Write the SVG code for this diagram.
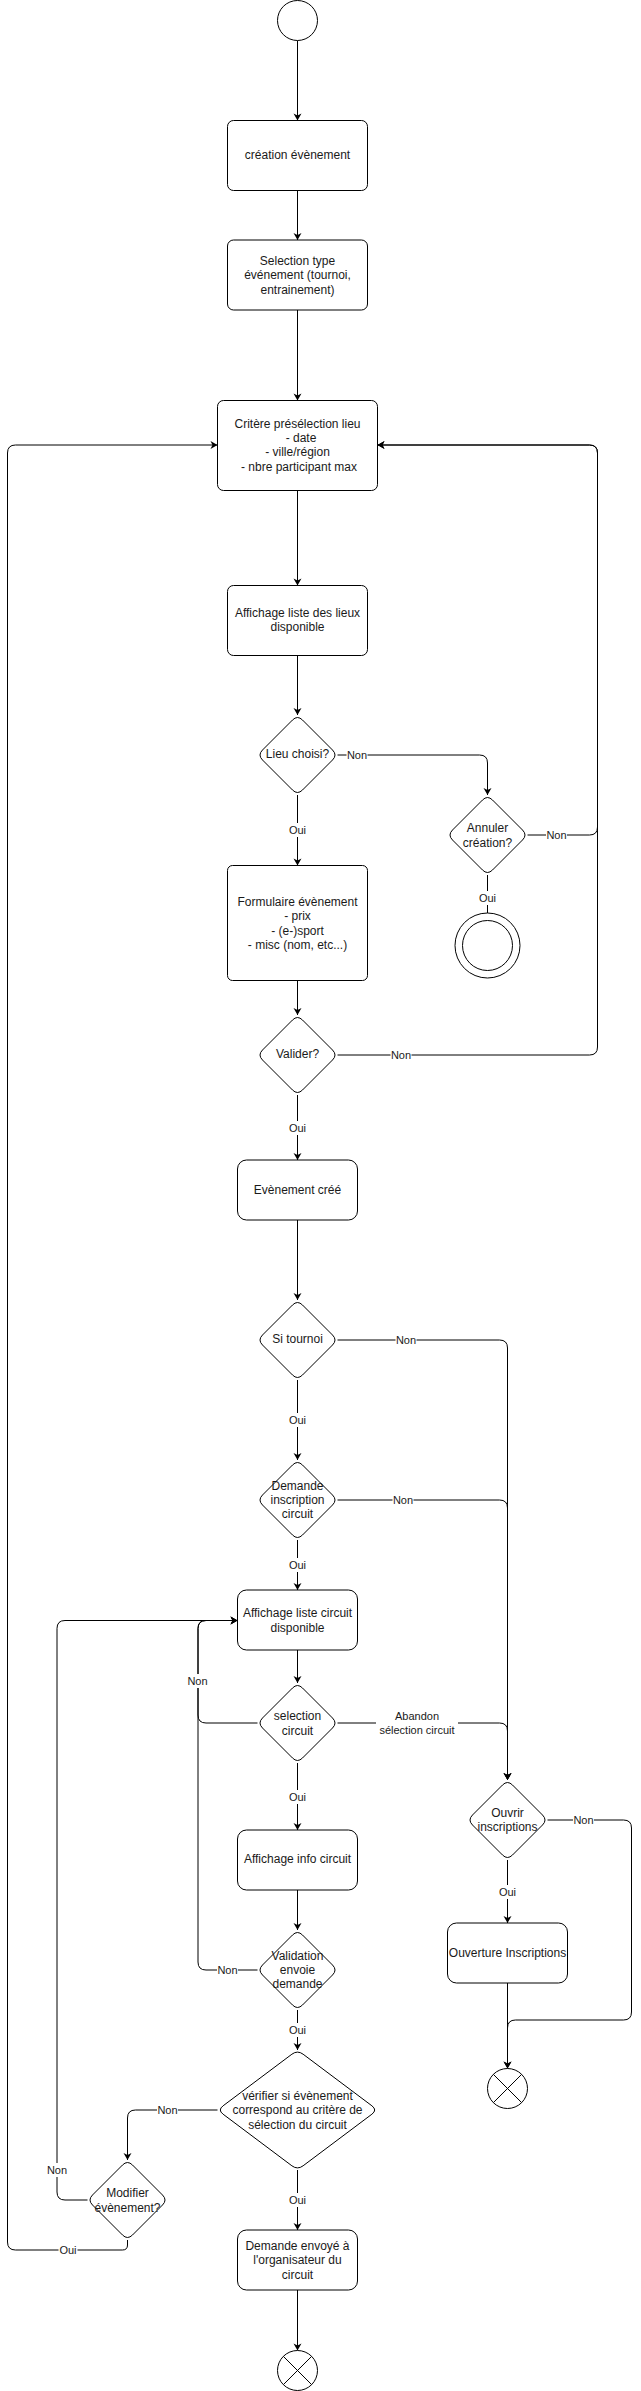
<svg xmlns="http://www.w3.org/2000/svg" xmlns:xlink="http://www.w3.org/1999/xlink" width="641" height="2391" viewBox="0 0 641 2391">
<style>
.n{fill:#fff;stroke:#000;stroke-width:1}
.t{font-family:"Liberation Sans",Arial,sans-serif;font-size:12px;fill:#1a1a1a;text-anchor:middle;dominant-baseline:central}
.l{font-family:"Liberation Sans",Arial,sans-serif;font-size:11px;fill:#1a1a1a;text-anchor:middle;dominant-baseline:central}
.c{fill:none;stroke:#000;stroke-width:1}
.a{marker-end:url(#arr)}
.bg{fill:#fff;stroke:none}
</style>
<defs>
<marker id="arr" markerUnits="userSpaceOnUse" markerWidth="10" markerHeight="10" viewBox="-8 -5 10 10" refX="0" refY="0" orient="auto"><path d="M-7,-4 L0,0 L-7,4 L-5,0 Z" fill="#000"/></marker>
<path id="dm" d="M-5,-35 Q0,-40 5,-35 L35,-5 Q40,0 35,5 L5,35 Q0,40 -5,35 L-35,5 Q-40,0 -35,-5 Z"/>
<path id="dmb" d="M-5.6,-55.8 Q0,-60 5.6,-55.8 L74.4,-4.2 Q80,0 74.4,4.2 L5.6,55.8 Q0,60 -5.6,55.8 L-74.4,4.2 Q-80,0 -74.4,-4.2 Z"/>
</defs>

<g id="connectors">
<path class="c a" d="M297.5,40.5 V120.5"/>
<path class="c a" d="M297.5,190.5 V240"/>
<path class="c a" d="M297.5,310 V400.5"/>
<path class="c a" d="M297.5,490.5 V585.5"/>
<path class="c a" d="M297.5,655.5 V715"/>
<path class="c a" d="M297.5,795 V865.5"/>
<path class="c a" d="M337.5,755 H479.5 Q487.5,755 487.5,763 V795"/>
<path class="c a" d="M527.5,835 H589.5 Q597.5,835 597.5,827 V453 Q597.5,445 589.5,445 H377.5"/>
<path class="c a" d="M487.5,875 V920.5"/>
<path class="c a" d="M297.5,980.5 V1015"/>
<path class="c a" d="M337.5,1055 H589.5 Q597.5,1055 597.5,1047 V453 Q597.5,445 589.5,445 H377.5"/>
<path class="c a" d="M297.5,1095 V1160"/>
<path class="c a" d="M297.5,1220 V1300"/>
<path class="c a" d="M297.5,1380 V1460"/>
<path class="c a" d="M337.5,1340 H499.5 Q507.5,1340 507.5,1348 V1780"/>
<path class="c a" d="M337.5,1500 H499.5 Q507.5,1500 507.5,1508 V1780"/>
<path class="c a" d="M297.5,1540 V1590"/>
<path class="c a" d="M297.5,1650 V1683"/>
<path class="c a" d="M257.5,1723 H206 Q198,1723 198,1715 V1628.5 Q198,1620.5 206,1620.5 H237.5"/>
<path class="c a" d="M337.5,1723 H499.5 Q507.5,1723 507.5,1731 V1780"/>
<path class="c a" d="M297.5,1763 V1830"/>
<path class="c a" d="M297.5,1890 V1930"/>
<path class="c a" d="M257.5,1970 H206 Q198,1970 198,1962 V1628.5 Q198,1620.5 206,1620.5 H237.5"/>
<path class="c a" d="M297.5,2010 V2050"/>
<path class="c a" d="M217.5,2110 H135.5 Q127.5,2110 127.5,2118 V2160"/>
<path class="c a" d="M297.5,2170 V2230"/>
<path class="c a" d="M297.5,2290 V2350.5"/>
<path class="c a" d="M87.5,2200 H65 Q57,2200 57,2192 V1628.5 Q57,1620.5 65,1620.5 H237.5"/>
<path class="c a" d="M127.5,2240 V2245 Q127.5,2250 122.5,2250 H15.5 Q7.5,2250 7.5,2242 V453 Q7.5,445 15.5,445 H217.5"/>
<path class="c a" d="M507.5,1860 V1923"/>
<path class="c a" d="M547.5,1820 H623.5 Q631.5,1820 631.5,1828 V2012 Q631.5,2020 623.5,2020 H515.5 Q507.5,2020 507.5,2028 V2068.5"/>
<path class="c a" d="M507.5,1983 V2068.5"/>

<rect class="bg" x="288" y="823" width="19" height="14"/><text class="l" x="297.5" y="830">Oui</text>
<rect class="bg" x="346.5" y="748" width="21" height="14"/><text class="l" x="357" y="755">Non</text>
<rect class="bg" x="546" y="828" width="21" height="14"/><text class="l" x="556.5" y="835">Non</text>
<rect class="bg" x="478" y="891" width="19" height="14"/><text class="l" x="487.5" y="898">Oui</text>
<rect class="bg" x="390.5" y="1048" width="21" height="14"/><text class="l" x="401" y="1055">Non</text>
<rect class="bg" x="288" y="1121" width="19" height="14"/><text class="l" x="297.5" y="1128">Oui</text>
<rect class="bg" x="395.5" y="1333" width="21" height="14"/><text class="l" x="406" y="1340">Non</text>
<rect class="bg" x="288" y="1413" width="19" height="14"/><text class="l" x="297.5" y="1420">Oui</text>
<rect class="bg" x="392.5" y="1493" width="21" height="14"/><text class="l" x="403" y="1500">Non</text>
<rect class="bg" x="288" y="1558" width="19" height="14"/><text class="l" x="297.5" y="1565">Oui</text>
<rect class="bg" x="187" y="1674" width="21" height="14"/><text class="l" x="197.5" y="1681">Non</text>
<rect class="bg" x="376" y="1709" width="82" height="28"/><text class="l" x="417" y="1716.3">Abandon</text><text class="l" x="417" y="1730.3">sélection circuit</text>
<rect class="bg" x="288" y="1790" width="19" height="14"/><text class="l" x="297.5" y="1797">Oui</text>
<rect class="bg" x="573" y="1813" width="21" height="14"/><text class="l" x="583.5" y="1820">Non</text>
<rect class="bg" x="498" y="1885" width="19" height="14"/><text class="l" x="507.5" y="1892">Oui</text>
<rect class="bg" x="217" y="1963" width="21" height="14"/><text class="l" x="227.5" y="1970">Non</text>
<rect class="bg" x="288" y="2023" width="19" height="14"/><text class="l" x="297.5" y="2030">Oui</text>
<rect class="bg" x="157" y="2103" width="21" height="14"/><text class="l" x="167.5" y="2110">Non</text>
<rect class="bg" x="288" y="2193" width="19" height="14"/><text class="l" x="297.5" y="2200">Oui</text>
<rect class="bg" x="46.5" y="2163" width="21" height="14"/><text class="l" x="57" y="2170">Non</text>
<rect class="bg" x="58.5" y="2243" width="19" height="14"/><text class="l" x="68" y="2250">Oui</text>
</g>

<g id="start"><circle class="n" cx="297.5" cy="20.5" r="20"/></g>

<g id="creation"><rect class="n" x="227.5" y="120.5" width="140" height="70" rx="6"/>
<text class="t" x="297.5" y="155">création évènement</text></g>

<g id="selectionType"><rect class="n" x="227.5" y="240" width="140" height="70" rx="6"/>
<text class="t" x="297.5" y="260.7">Selection type</text><text class="t" x="297.5" y="275.3">événement (tournoi,</text><text class="t" x="297.5" y="289.7">entrainement)</text></g>

<g id="critere"><rect class="n" x="217.5" y="400.5" width="160" height="90" rx="6"/>
<text class="t" x="297.5" y="423.7">Critère présélection lieu</text><text class="t" x="301" y="437.7">- date</text><text class="t" x="297.5" y="452.3">- ville/région</text><text class="t" x="299" y="466.7">- nbre participant max</text></g>

<g id="affichageLieux"><rect class="n" x="227.5" y="585.5" width="140" height="70" rx="6"/>
<text class="t" x="297.5" y="612.7">Affichage liste des lieux</text><text class="t" x="297.5" y="627.3">disponible</text></g>

<g id="lieuChoisi"><use href="#dm" class="n" transform="translate(297.5,755)"/>
<text class="t" x="297.5" y="754.3">Lieu choisi?</text></g>

<g id="annuler"><use href="#dm" class="n" transform="translate(487.5,835)"/>
<text class="t" x="487.5" y="827.7">Annuler</text><text class="t" x="487.5" y="842.7">création?</text></g>

<g id="endCancel"><circle class="n" cx="487.5" cy="945.5" r="32.5"/><circle class="n" cx="487.5" cy="945.5" r="25"/></g>

<g id="formulaire"><rect class="n" x="227.5" y="865.5" width="140" height="115" rx="5"/>
<text class="t" x="297.5" y="901.7">Formulaire évènement</text><text class="t" x="297.5" y="916">- prix</text><text class="t" x="297.5" y="930.7">- (e-)sport</text><text class="t" x="297.5" y="945">- misc (nom, etc...)</text></g>

<g id="valider"><use href="#dm" class="n" transform="translate(297.5,1055)"/>
<text class="t" x="297.5" y="1054">Valider?</text></g>

<g id="evenementCree"><rect class="n" x="237.5" y="1160" width="120" height="60" rx="9"/>
<text class="t" x="297.5" y="1189.7">Evènement créé</text></g>

<g id="siTournoi"><use href="#dm" class="n" transform="translate(297.5,1340)"/>
<text class="t" x="297.5" y="1339.3">Si tournoi</text></g>

<g id="demandeInscription"><use href="#dm" class="n" transform="translate(297.5,1500)"/>
<text class="t" x="297.5" y="1485.7">Demande</text><text class="t" x="297.5" y="1500">inscription</text><text class="t" x="297.5" y="1514.3">circuit</text></g>

<g id="affichageCircuit"><rect class="n" x="237.5" y="1590" width="120" height="60" rx="9"/>
<text class="t" x="297.5" y="1612.7">Affichage liste circuit</text><text class="t" x="297.5" y="1627.7">disponible</text></g>

<g id="selectionCircuit"><use href="#dm" class="n" transform="translate(297.5,1723)"/>
<text class="t" x="297.5" y="1715.7">selection</text><text class="t" x="297.5" y="1730.7">circuit</text></g>

<g id="ouvrirInscriptions"><use href="#dm" class="n" transform="translate(507.5,1820)"/>
<text class="t" x="507.5" y="1812.7">Ouvrir</text><text class="t" x="507.5" y="1827.3">inscriptions</text></g>

<g id="affichageInfo"><rect class="n" x="237.5" y="1830" width="120" height="60" rx="9"/>
<text class="t" x="297.5" y="1859.3">Affichage info circuit</text></g>

<g id="ouverture"><rect class="n" x="447.5" y="1923" width="120" height="60" rx="9"/>
<text class="t" x="507.5" y="1952.7">Ouverture Inscriptions</text></g>

<g id="endOuverture"><circle class="n" cx="507.5" cy="2088.5" r="20"/><path class="c" d="M493.4,2074.4 L521.6,2102.6 M521.6,2074.4 L493.4,2102.6"/></g>

<g id="validation"><use href="#dm" class="n" transform="translate(297.5,1970)"/>
<text class="t" x="297.5" y="1956">Validation</text><text class="t" x="297.5" y="1970">envoie</text><text class="t" x="297.5" y="1984.3">demande</text></g>

<g id="verifier"><use href="#dmb" class="n" transform="translate(297.5,2110)"/>
<text class="t" x="297.5" y="2096">vérifier si évènement</text><text class="t" x="297.5" y="2110">correspond au critère de</text><text class="t" x="297.5" y="2124.7">sélection du circuit</text></g>

<g id="modifier"><use href="#dm" class="n" transform="translate(127.5,2200)"/>
<text class="t" x="127.5" y="2192.7">Modifier</text><text class="t" x="127.5" y="2207.7">évènement?</text></g>

<g id="demandeEnvoye"><rect class="n" x="237.5" y="2230" width="120" height="60" rx="9"/>
<text class="t" x="297.5" y="2246">Demande envoyé à</text><text class="t" x="297.5" y="2260.3">l'organisateur du</text><text class="t" x="297.5" y="2275">circuit</text></g>

<g id="endFinal"><circle class="n" cx="297.5" cy="2370.5" r="20"/><path class="c" d="M283.4,2356.4 L311.6,2384.6 M311.6,2356.4 L283.4,2384.6"/></g>
</svg>
